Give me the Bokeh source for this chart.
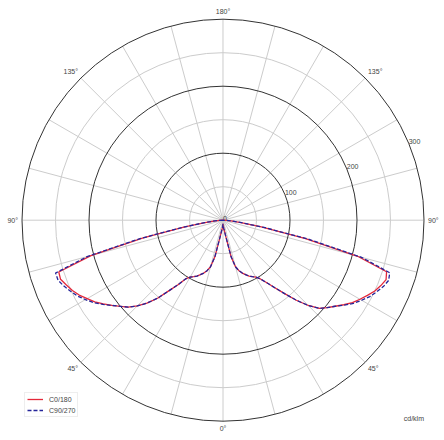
import numpy as np
from bokeh.plotting import figure
from bokeh.models import Legend, LegendItem, Range1d
from bokeh.embed import file_html
from bokeh.resources import INLINE
from bokeh.core.properties import value

# ---------------- data ----------------
gamma = [0, 2.5, 5, 7.5, 10, 12.5, 15, 17.5, 20, 22.5, 25, 27.5, 30, 32.5, 35, 37.5,
         40, 42.5, 45, 47.5, 50, 52.5, 55, 57.5, 60, 62.5, 65, 67.5, 70, 72.5, 75,
         77.5, 80, 82.5, 85, 87.5, 90]

c0 = [6, 8, 12, 16, 26, 56, 72, 79, 84, 88, 92, 95, 98, 104, 114, 127,
      143, 162, 180, 195, 203, 211, 220, 229, 236, 243, 250, 255, 259, 256, 208,
      125, 58, 27, 12, 5, 0]
c180 = [6, 8, 12, 16, 26, 56, 72, 79, 84, 88, 92, 95, 98, 104, 118, 133,
        152, 168, 181, 192, 200, 209, 218, 227, 234, 242, 248, 253, 258, 257, 204,
        122, 58, 27, 12, 5, 0]
c90 = [6, 8, 12, 16, 26, 56, 72, 79, 84, 88, 92, 95, 98, 104, 114, 127,
       143, 162, 180, 195, 203, 211, 221, 231, 239, 247, 253, 259, 263, 261, 214,
       130, 62, 28, 12, 5, 0]
c270 = [6, 8, 12, 16, 26, 56, 72, 79, 84, 88, 92, 95, 98, 104, 118, 133,
        152, 168, 181, 192, 200, 209, 219, 229, 237, 245, 251, 257, 262, 262, 210,
        127, 61, 28, 12, 5, 0]

series_names = ["C0/180", "C90/270"]
ring_major = [100, 200, 300]
ring_minor = [50, 150, 250]
radial_ticks = [0, 100, 200, 300]
radial_tick_labels = ["0", "100", "200", "300"]
spoke_angles = list(range(0, 360, 15))
angle_ticks = [0, 45, 90, 135, 180]
angle_tick_labels = ["0°", "45°", "90°", "135°", "180°"]
unit_label = "cd/klm"

# ---------------- figure ----------------
R_MAX = 300
K = 0.67  # px per unit
W, H = 444, 440
CX, CY = 222.5, 219.7
p = figure(width=W, height=H, output_backend="svg", toolbar_location=None,
           x_axis_type=None, y_axis_type=None, min_border=0,
           x_range=Range1d(-CX / K, (W - CX) / K),
           y_range=Range1d(-(H - CY) / K, CY / K))
p.outline_line_color = None
p.background_fill_color = "white"
p.border_fill_color = "white"

FONT = value("Liberation Sans")
TXT = "#444444"
FS = "7px"

# grid
p.ray(x=0, y=0, length=R_MAX, angle=spoke_angles, angle_units="deg",
      length_units="data", line_color="#cccccc", line_width=1)
p.circle(x=0, y=0, radius=ring_minor, radius_units="data", fill_color=None,
         line_color="#cccccc", line_width=1)
p.circle(x=0, y=0, radius=ring_major, radius_units="data", fill_color=None,
         line_color="#333333", line_width=1)

# radial tick labels along 22.5 deg
a = np.radians(22.5)
rt = np.array(radial_ticks, dtype=float)
p.text(x=rt * np.cos(a), y=rt * np.sin(a), text=radial_tick_labels,
       text_font=FONT, text_font_size=FS, text_color=TXT,
       text_align="left", text_baseline="middle", y_offset=-2)

# angle labels
RL = 306
def place(gs, side):
    g = np.radians(gs)
    return side * RL * np.sin(g), -RL * np.cos(g)

groups = [
    ([0], 1, "center", "top"),
    ([180], 1, "center", "bottom"),
    ([45], 1, "left", "top"), ([90], 1, "left", "middle"), ([135], 1, "left", "bottom"),
    ([45], -1, "right", "top"), ([90], -1, "right", "middle"), ([135], -1, "right", "bottom"),
]
for gs, side, al, bl in groups:
    x, y = place(np.array(gs, dtype=float), side)
    labels = [angle_tick_labels[angle_ticks.index(v)] for v in gs]
    p.text(x=x, y=y, text=labels, text_font=FONT, text_font_size=FS,
           text_color=TXT, text_align=al, text_baseline=bl)

# unit label
p.text(x=[R_MAX], y=[-295.5], text=[unit_label], text_font=FONT, text_font_size=FS,
       text_color=TXT, text_align="right", text_baseline="middle")

# curves
def curve(left, right):
    g = np.radians(np.array(gamma, dtype=float))
    l = np.array(left, dtype=float)
    r = np.array(right, dtype=float)
    xl, yl = -l * np.sin(g), -l * np.cos(g)
    xr, yr = r * np.sin(g), -r * np.cos(g)
    return (np.concatenate([xl[::-1], xr[1:]]), np.concatenate([yl[::-1], yr[1:]]))

x1, y1 = curve(c180, c0)
x2, y2 = curve(c270, c90)
r1 = p.line(x1, y1, line_color="#e4283a", line_width=1.3, line_join="round")
r2 = p.line(x2, y2, line_color="#25259a", line_width=1.3, line_dash="4 2",
            line_join="round")

legend = Legend(items=[LegendItem(label=series_names[0], renderers=[r1]),
                       LegendItem(label=series_names[1], renderers=[r2])],
                location=(24, 23))
legend.label_text_font = "Liberation Sans"
legend.label_text_font_size = FS
legend.label_text_color = TXT
legend.glyph_width = 16
legend.glyph_height = 8
legend.label_height = 8
legend.label_standoff = 6
legend.spacing = 3
legend.padding = 2
legend.margin = 0
legend.border_line_color = "#dddddd"
legend.background_fill_alpha = 1
p.add_layout(legend)

open("out.html", "w").write(file_html(p, INLINE))
